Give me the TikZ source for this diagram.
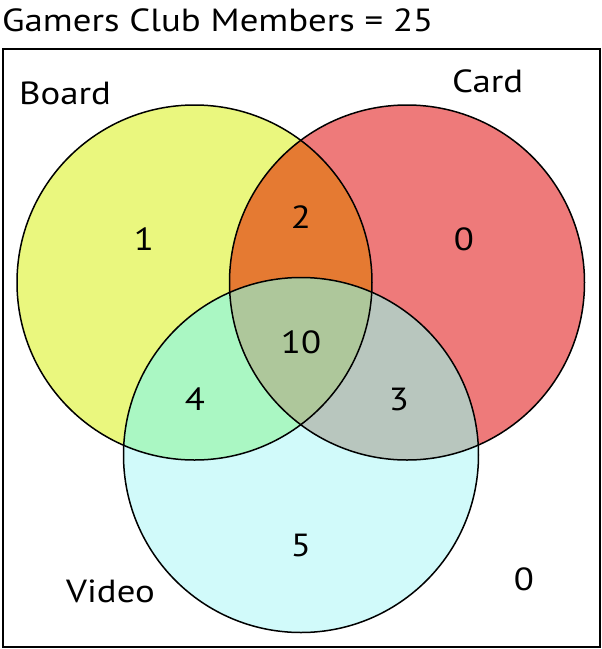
\documentclass[tikz,border=0pt]{standalone}
\usepackage{fontspec}
\setmainfont{PT Sans}[FakeStretch=1.15]
\definecolor{cB}{RGB}{234,247,126}
\definecolor{cC}{RGB}{238,122,122}
\definecolor{cV}{RGB}{209,250,250}
\definecolor{cBC}{RGB}{229,122,50}
\definecolor{cBV}{RGB}{170,247,195}
\definecolor{cCV}{RGB}{184,198,190}
\definecolor{cBCV}{RGB}{174,199,155}
\tikzset{lbl/.style={font=\fontsize{32}{32}\selectfont, inner sep=0pt, anchor=base},
  ring/.style={draw=black, line width=1.5pt}}
\begin{document}
\begin{tikzpicture}[x=1pt,y=-1pt]
\useasboundingbox (0,0) rectangle (602,649);
\def\r{177.5}
\coordinate (B) at (194.5,282.5);
\coordinate (C) at (407,282.5);
\coordinate (V) at (301,455);
% single fills
\fill[cB] (B) circle (\r);
\fill[cC] (C) circle (\r);
\fill[cV] (V) circle (\r);
\begin{scope}
  \clip (B) circle (\r);
  \fill[cBC] (C) circle (\r);
  \fill[cBV] (V) circle (\r);
\end{scope}
\begin{scope}
  \clip (C) circle (\r);
  \fill[cCV] (V) circle (\r);
\end{scope}
\begin{scope}
  \clip (B) circle (\r);
  \clip (C) circle (\r);
  \fill[cBCV] (V) circle (\r);
\end{scope}
\draw[ring] (B) circle (\r);
\draw[ring] (C) circle (\r);
\draw[ring] (V) circle (\r);
\node[draw=black, line width=2pt, inner sep=0pt, minimum width=597pt, minimum height=598pt, anchor=north west] (frame) at (2,48) {};
\node[lbl, anchor=base west] (title) at (2,31) {Gamers Club Members = 25};
\node[lbl, anchor=base west] (board) at (19,104) {Board};
\node[lbl, anchor=base west] (card) at (452,92) {Card};
\node[lbl, anchor=base west] (video) at (66,602) {Video};
\node[lbl] (n1) at (144,250) {1};
\node[lbl] (n2) at (301,228) {2};
\node[lbl] (n0a) at (464,250) {0};
\node[lbl] (n10) at (301,353) {10};
\node[lbl] (n4) at (195,410) {4};
\node[lbl] (n3) at (399,410) {3};
\node[lbl] (n5) at (301,556) {5};
\node[lbl] (n0b) at (524,590) {0};
\end{tikzpicture}
\end{document}
